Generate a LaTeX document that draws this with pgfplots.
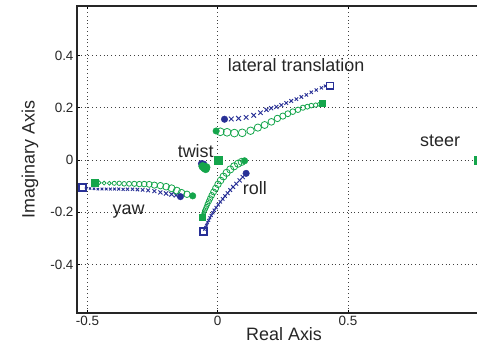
\documentclass[border=0pt]{standalone}
\usepackage{pgfplots}
\pgfplotsset{compat=1.18}
\usepackage{fontspec}
\setmainfont{Liberation Sans}
\definecolor{lblue}{RGB}{40,48,150}
\definecolor{lgreen}{RGB}{20,165,75}
\pgfplotsset{
  sized/.style={only marks, scatter, point meta=\thisrow{s},
    scatter/use mapped color={draw=#1, fill=#1},
    visualization depends on={\thisrow{s}\as\msz},
    scatter/@pre marker code/.append style={/tikz/mark size={1.3*\msz}}},
}
\begin{document}
\begin{tikzpicture}
\begin{axis}[name=ax, scale only axis, width=401.3bp, height=307bp,
  xmin=-0.54, xmax=1.0, ymin=-0.585, ymax=0.589,
  xtick={-0.5,0,0.5}, xticklabels={-0.5,0,0.5},
  ytick={-0.4,-0.2,0,0.2,0.4}, yticklabels={-0.4,-0.2,0,0.2,0.4},
  ytick pos=left,
  grid=major, major grid style={black!75, line width=0.7bp, dash pattern=on 0.8bp off 3bp},
  axis line style={draw=none},
  tick style={black, line width=0.6bp}, major tick length=3.5bp, tick align=inside,
  ticklabel style={font=\fontsize{13.5}{14}\selectfont, text=black!85},
  xlabel={Real Axis}, ylabel={Imaginary Axis},
  label style={font=\fontsize{18}{20}\selectfont, text=black!85},
  xlabel style={at={(axis description cs:0.516,-0.068)}, anchor=center},
  ylabel style={at={(axis description cs:-0.117,0.5)}, anchor=center},
  clip marker paths=true,
]
% lateral translation, blue crosses
\addplot[sized=lblue, mark=x, line width=0.9bp] table {
x y s
0.052 0.157 2.6
0.080 0.159 2.6
0.109 0.163 2.5
0.138 0.171 2.5
0.164 0.181 2.4
0.187 0.192 2.3
0.205 0.198 2.2
0.225 0.203 2.2
0.244 0.210 2.1
0.263 0.218 2.0
0.282 0.226 2.0
0.302 0.233 1.9
0.321 0.241 1.9
0.340 0.249 1.8
0.359 0.259 1.8
0.378 0.268 1.7
0.398 0.276 1.7
0.413 0.283 1.6
};
% lateral translation, green circles
\addplot[sized=lgreen, mark=o, line width=0.8bp] table {
x y s
0.010 0.108 3.0
0.036 0.106 3.0
0.064 0.103 3.0
0.094 0.104 3.0
0.126 0.112 2.9
0.154 0.124 2.8
0.180 0.134 2.7
0.206 0.146 2.6
0.229 0.159 2.5
0.250 0.168 2.4
0.269 0.177 2.3
0.288 0.185 2.2
0.308 0.192 2.1
0.327 0.200 2.0
0.344 0.204 1.9
0.359 0.208 1.8
0.376 0.210 1.7
0.391 0.213 1.6
};
% yaw, blue crosses
\addplot[sized=lblue, mark=x, line width=0.9bp] table {
x y s
-0.505 -0.107 1.2
-0.490 -0.109 1.2
-0.475 -0.110 1.3
-0.460 -0.111 1.3
-0.444 -0.111 1.4
-0.428 -0.111 1.4
-0.412 -0.111 1.5
-0.396 -0.111 1.5
-0.380 -0.111 1.6
-0.363 -0.112 1.6
-0.346 -0.112 1.7
-0.327 -0.112 1.7
-0.308 -0.113 1.8
-0.288 -0.114 1.9
-0.267 -0.116 2.0
-0.243 -0.119 2.1
-0.220 -0.124 2.2
-0.198 -0.128 2.3
-0.177 -0.131 2.4
-0.160 -0.135 2.4
};
% yaw, green circles
\addplot[sized=lgreen, mark=o, line width=0.8bp] table {
x y s
-0.455 -0.087 1.4
-0.436 -0.088 1.5
-0.416 -0.089 1.5
-0.397 -0.089 1.6
-0.378 -0.089 1.7
-0.359 -0.091 1.8
-0.340 -0.091 1.9
-0.320 -0.091 2.0
-0.301 -0.092 2.1
-0.282 -0.092 2.2
-0.263 -0.093 2.3
-0.243 -0.096 2.4
-0.220 -0.098 2.5
-0.198 -0.102 2.6
-0.177 -0.108 2.7
-0.157 -0.117 2.7
-0.139 -0.125 2.6
-0.118 -0.131 2.5
};
% roll, blue crosses
\addplot[sized=lblue, mark=x, line width=0.9bp] table {
x y s
-0.051 -0.265 1.3
-0.047 -0.257 1.3
-0.043 -0.249 1.4
-0.039 -0.240 1.4
-0.035 -0.231 1.5
-0.030 -0.221 1.5
-0.025 -0.212 1.6
-0.019 -0.202 1.6
-0.013 -0.192 1.7
-0.006 -0.182 1.7
0.002 -0.171 1.8
0.010 -0.160 1.8
0.019 -0.149 1.9
0.028 -0.138 1.9
0.038 -0.127 2.0
0.048 -0.115 2.0
0.059 -0.103 2.1
0.071 -0.091 2.1
0.084 -0.078 2.2
0.096 -0.065 2.3
};
% roll, green circles
\addplot[sized=lgreen, mark=o, line width=0.8bp] table {
x y s
-0.057 -0.210 1.4
-0.054 -0.203 1.5
-0.051 -0.195 1.6
-0.047 -0.187 1.7
-0.043 -0.178 1.8
-0.039 -0.168 1.9
-0.034 -0.158 2.0
-0.029 -0.147 2.1
-0.023 -0.135 2.2
-0.016 -0.122 2.3
-0.008 -0.108 2.4
0.001 -0.093 2.5
0.011 -0.078 2.6
0.022 -0.063 2.7
0.034 -0.049 2.8
0.048 -0.036 2.8
0.063 -0.024 2.8
0.078 -0.014 2.8
0.092 -0.007 2.8
};
% twist cluster
\addplot[only marks, mark=*, mark size=3.4, color=lblue] coordinates {(-0.062,-0.014) (-0.054,-0.016)};
\addplot[only marks, mark=*, mark size=4.0, color=lgreen] coordinates {(-0.058,-0.024) (-0.052,-0.030) (-0.046,-0.034) (-0.044,-0.028)};
\addplot[only marks, mark=square*, mark size=3.8, color=lgreen] coordinates {(0.002,0)};
% steer
\addplot[only marks, mark=square*, mark size=3.8, color=lgreen] coordinates {(0.998,0)};
% end squares
\addplot[only marks, mark=square*, mark size=3.2, color=lgreen] coordinates {(0.400,0.217) (-0.472,-0.087) (-0.060,-0.219)};
\addplot[only marks, mark=square, mark size=3.4, line width=1.6bp, color=lblue] coordinates {(0.431,0.284) (-0.519,-0.105) (-0.055,-0.274)};
% start dots
\addplot[only marks, mark=*, mark size=3.3, color=lblue] coordinates {(0.026,0.156) (-0.143,-0.140) (0.109,-0.051)};
\addplot[only marks, mark=*, mark size=3.3, color=lgreen] coordinates {(-0.006,0.111) (-0.096,-0.137) (0.103,-0.003)};
% labels
\begin{scope}[every node/.style={font=\fontsize{18}{20}\selectfont, text=black!85, inner sep=0pt}]
\node[anchor=base west] at (axis cs:0.038,0.337) {lateral translation};
\node[anchor=base west] at (axis cs:0.776,0.051) {steer};
\node[anchor=base west] at (axis cs:-0.154,0.011) {twist};
\node[anchor=base west] at (axis cs:-0.404,-0.208) {yaw};
\node[anchor=base west] at (axis cs:0.096,-0.131) {roll};
\end{scope}
\end{axis}
\draw[line width=1.2bp, black!85] ([xshift=5bp]ax.north east) -- (ax.north west) -- (ax.south west) -- ([xshift=5bp]ax.south east);
\pgfresetboundingbox
\path[use as bounding box] ([shift={(-77bp,-35bp)}]ax.south west) rectangle ([shift={(400bp,6bp)}]ax.north west);
\end{tikzpicture}
\end{document}
